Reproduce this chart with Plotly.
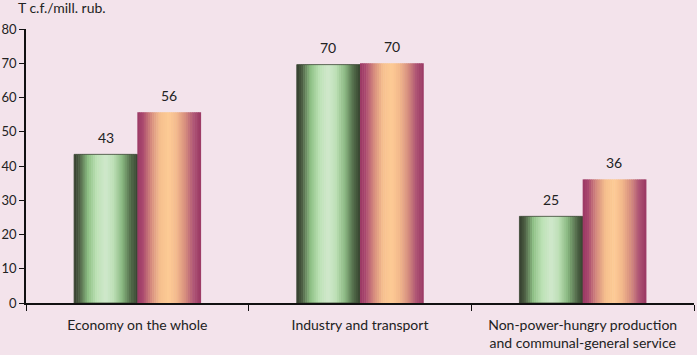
import plotly.graph_objects as go

categories = ["Economy on the whole", "Industry and transport",
              "Non-power-hungry production<br>and communal-general service"]
series_a = [43.4, 69.6, 25.3]   # green
series_b = [55.7, 70.0, 36.1]   # orange
y_ticks = [0, 10, 20, 30, 40, 50, 60, 70, 80]
y_title = "T c.f./mill. rub."

green_stops = [(0, "#343e2e"), (0.08, "#4b5d42"), (0.22, "#8fc186"), (0.36, "#bde2b6"),
               (0.5, "#d0e8cc"), (0.62, "#bde0b6"), (0.76, "#8ab982"), (0.89, "#556f4c"), (1, "#36432f")]
orange_stops = [(0, "#9a3864"), (0.08, "#a8466e"), (0.22, "#d68c7e"), (0.36, "#f6c08e"),
                (0.5, "#fdcb95"), (0.62, "#f3b98c"), (0.76, "#d68e7e"), (0.89, "#ae5474"), (1, "#9a3864")]


def hex2rgb(h):
    h = h.lstrip("#")
    return tuple(int(h[i:i + 2], 16) for i in (0, 2, 4))


def interp(stops, t):
    for (t0, c0), (t1, c1) in zip(stops[:-1], stops[1:]):
        if t0 <= t <= t1:
            f = (t - t0) / (t1 - t0) if t1 > t0 else 0
            a, b = hex2rgb(c0), hex2rgb(c1)
            return "rgb(%d,%d,%d)" % tuple(round(a[k] + (b[k] - a[k]) * f) for k in range(3))
    return stops[-1][1]


fig = go.Figure()
bw = 0.284
N = 30
for vals, stops, base, outline in [(series_a, green_stops, -bw, "#3a4633"),
                                   (series_b, orange_stops, 0.0, "rgba(0,0,0,0)")]:
    for i in range(N):
        t = (i + 0.5) / N
        fig.add_trace(go.Bar(
            x=categories, y=vals,
            width=[bw / N * 1.25] * len(vals),
            offset=[base + i * bw / N] * len(vals),
            marker=dict(color=interp(stops, t), line=dict(width=0)),
            showlegend=False, hoverinfo="skip"))
    fig.add_trace(go.Bar(
        x=categories, y=vals, width=[bw] * len(vals), offset=[base] * len(vals),
        marker=dict(color="rgba(0,0,0,0)", line=dict(width=0.8, color=outline)),
        showlegend=False, hoverinfo="skip"))

FS = 14
annotations = []
for cat, va, vb in zip(categories, series_a, series_b):
    for v, shift in [(va, -bw / 2), (vb, bw / 2)]:
        annotations.append(dict(
            x=cat, y=v, xref="x", yref="y", text="%.0f" % v, showarrow=False,
            xshift=shift * 222.7, yshift=17, font=dict(size=FS, color="#222222")))
annotations.append(dict(
    x=0, y=1, xref="paper", yref="paper", text=y_title, showarrow=False,
    xanchor="left", yanchor="bottom", xshift=-10, yshift=11,
    font=dict(size=FS, color="#222222")))

fig.update_layout(
    width=697, height=355,
    margin=dict(l=26, r=3, t=29, b=52),
    paper_bgcolor="#f3e3eb", plot_bgcolor="#f3e3eb",
    barmode="overlay",
    font=dict(family="Lato, 'Open Sans', sans-serif", size=FS, color="#222222"),
    annotations=annotations,
    xaxis=dict(showline=True, linecolor="#111111", linewidth=1.5, ticks="outside",
               ticklen=6, tickcolor="#111111", tickwidth=1.2, tickson="boundaries",
               showgrid=False, range=[-0.5, 2.5], tickfont=dict(size=FS),
               automargin=False, ticklabelstandoff=8),
    yaxis=dict(range=[0, 80], tickvals=y_ticks, showline=True, linecolor="#111111",
               linewidth=1.5, ticks="outside", ticklen=5, tickcolor="#111111",
               tickwidth=1.2, showgrid=False, zeroline=False, tickfont=dict(size=13),
               automargin=False, ticklabelstandoff=0),
)

fig.write_html("out.html", config={"displayModeBar": False},
               post_script="document.body.style.margin='0';document.body.style.padding='0';")
